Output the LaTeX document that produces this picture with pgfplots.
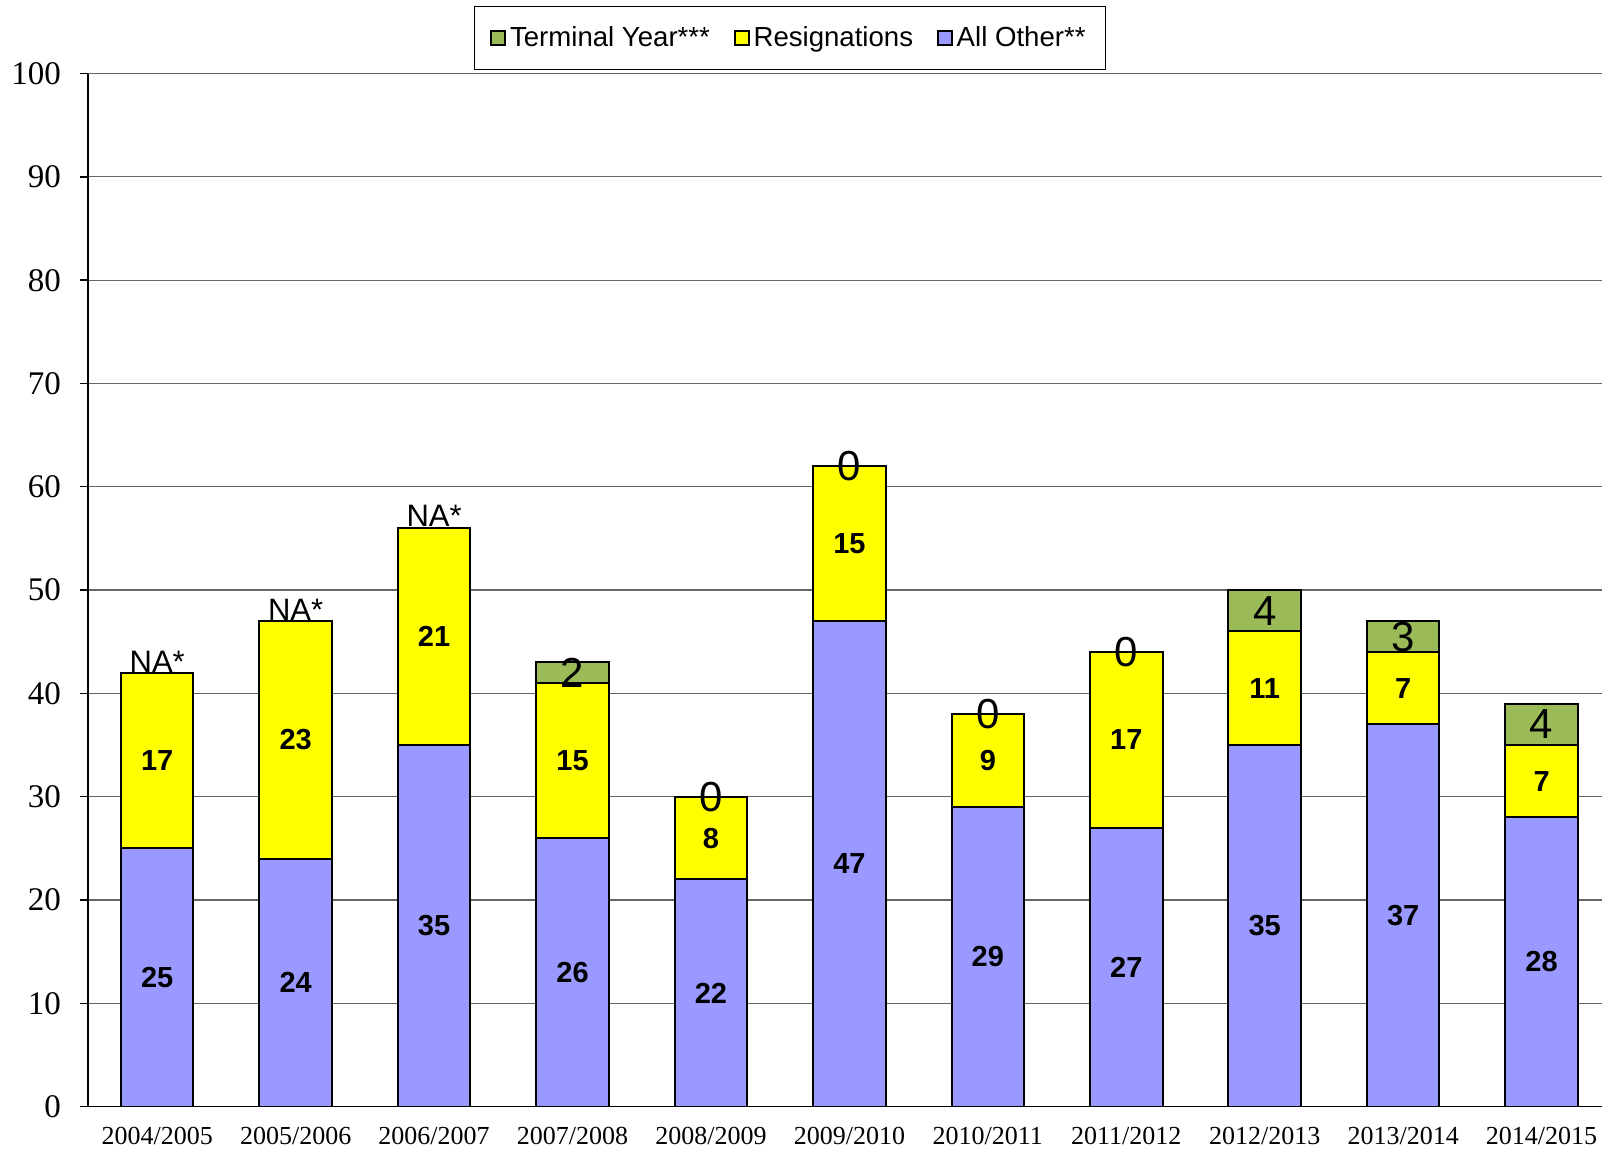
\documentclass[border=0pt]{standalone}
\usepackage{fontspec}
\setmainfont{Liberation Serif}
\setsansfont{Liberation Sans}
\usepackage{pgfplots}
\usepackage{pgfplotstable}
\pgfplotsset{compat=1.18}
\definecolor{allother}{HTML}{9999FF}
\definecolor{resig}{HTML}{FFFF00}
\definecolor{term}{HTML}{9BBB59}

\pgfplotstableread{
x other resig term
0 25 17 0
1 24 23 0
2 35 21 0
3 26 15 2
4 22 8 0
5 47 15 0
6 29 9 0
7 27 17 0
8 35 11 4
9 37 7 3
10 28 7 4
}\data

\pgfplotstableread{
x y label
3 42 2
4 30 0
5 62 0
6 38 0
7 44 0
8 48 4
9 45.5 3
10 37 4
}\termlabels

\pgfplotstableread{
x y label
0 43.1 NA*
1 48.1 NA*
2 57.2 NA*
}\nalabels

\begin{document}
\begin{tikzpicture}
\begin{axis}[
  scale only axis,
  width=761.4pt, height=516.5pt,
  ybar stacked,
  bar width=36.25pt,
  xmin=-0.5, xmax=10.5,
  ymin=0, ymax=100,
  ytick={0,10,...,100},
  xtick={0,...,10},
  xticklabels={2004/2005,2005/2006,2006/2007,2007/2008,2008/2009,2009/2010,2010/2011,2011/2012,2012/2013,2013/2014,2014/2015},
  axis lines*=left,
  axis line style={black, line width=0.8pt},
  tick align=outside,
  major tick length=4pt,
  xtick style={draw=none},
  ytick style={black, line width=0.7pt},
  ymajorgrids,
  grid style={gray!80!black, line width=0.6pt},
  /pgf/number format/assume math mode=true,
  yticklabel style={font=\fontsize{16.5}{17}\selectfont, xshift=-6pt},
  xticklabel style={font=\fontsize{13}{14}\selectfont, yshift=-3pt},
  reverse legend,
  legend style={at={(0.461,1.0654)}, anchor=north, legend columns=-1,
    draw=black, line width=0.6pt,
    font=\fontsize{13.8}{16}\selectfont\sffamily,
    /tikz/every even column/.append style={column sep=10pt},
    inner ysep=8pt, inner xsep=8pt},
]
\addplot[fill=allother, draw=black, line width=1pt,
  nodes near coords, point meta=explicit,
  nodes near coords style={font=\fontsize{14.5}{16}\selectfont\sffamily\bfseries},
  legend image code/.code={\draw[fill=allother,draw=black,line width=0.8pt] (0pt,-3.5pt) rectangle (7pt,3.5pt);}]
  table[x=x, y=other, meta=other] {\data};
\addplot[fill=resig, draw=black, line width=1pt,
  nodes near coords, point meta=explicit,
  nodes near coords style={font=\fontsize{14.5}{16}\selectfont\sffamily\bfseries},
  legend image code/.code={\draw[fill=resig,draw=black,line width=0.8pt] (0pt,-3.5pt) rectangle (7pt,3.5pt);}]
  table[x=x, y=resig, meta=resig] {\data};
\addplot[fill=term, draw=black, line width=1pt,
  legend image code/.code={\draw[fill=term,draw=black,line width=0.8pt] (0pt,-3.5pt) rectangle (7pt,3.5pt);}]
  table[x=x, y=term] {\data};
\legend{All Other**, Resignations, Terminal Year***}
\end{axis}
\begin{axis}[
  scale only axis,
  width=761.4pt, height=516.5pt,
  xmin=-0.5, xmax=10.5,
  ymin=0, ymax=100,
  hide axis,
]
\addplot[draw=none, mark=none,
  nodes near coords, point meta=explicit symbolic,
  nodes near coords style={anchor=center, font=\fontsize{21}{22}\selectfont\sffamily}]
  table[x=x, y=y, meta=label] {\termlabels};
\addplot[draw=none, mark=none,
  nodes near coords, point meta=explicit symbolic,
  nodes near coords style={anchor=center, font=\fontsize{15.5}{17}\selectfont\sffamily}]
  table[x=x, y=y, meta=label] {\nalabels};
\end{axis}
\pgfresetboundingbox
\useasboundingbox (-44pt,-22.75pt) rectangle (757pt,553.3pt);
\end{tikzpicture}
\end{document}
